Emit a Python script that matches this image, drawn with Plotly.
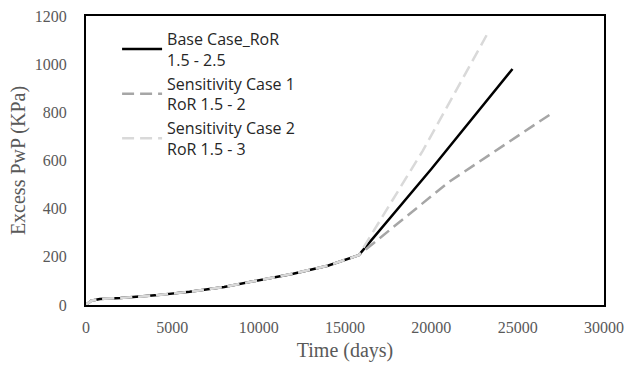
import plotly.graph_objects as go

# Shared early part (days, kPa)
t_common = [0, 300, 800, 2000, 4000, 6000, 8000, 10000, 12000, 14000, 15800]
p_common = [0, 18, 25, 29, 40, 55, 75, 102, 130, 163, 207]

base_t = t_common + [20000, 24700]
base_p = p_common + [565, 980]

sens1_t = t_common + [21000, 27000]
sens1_p = p_common + [510, 797]

sens2_t = t_common + [19500, 23200]
sens2_p = p_common + [640, 1120]

names = ["Base Case_RoR<br>1.5 - 2.5", "Sensitivity Case 1<br>RoR 1.5 - 2", "Sensitivity Case 2<br>RoR 1.5 - 3"]

x_ticks = [0, 5000, 10000, 15000, 20000, 25000, 30000]
y_ticks = [0, 200, 400, 600, 800, 1000, 1200]

fig = go.Figure()
fig.add_trace(go.Scatter(x=base_t, y=base_p, mode="lines", name=names[0], legendgroup="a",
                         line=dict(color="black", width=2.5)))
fig.add_trace(go.Scatter(x=sens1_t, y=sens1_p, mode="lines", name=names[1], legendgroup="b",
                         line=dict(color="#a6a6a6", width=2.5, dash="12px,6px")))
fig.add_trace(go.Scatter(x=sens2_t, y=sens2_p, mode="lines", name=names[2], legendgroup="c",
                         line=dict(color="#d9d9d9", width=2.5, dash="12px,6px")))

tickfont = dict(family="Liberation Serif", size=16, color="#595959")
titlefont = dict(family="Liberation Serif", size=20, color="#595959")

fig.update_layout(
    width=627, height=369,
    margin=dict(l=86, r=23, t=16, b=64),
    paper_bgcolor="white", plot_bgcolor="white",
    showlegend=True,
    legend=dict(x=0.06, y=0.98, xanchor="left", yanchor="top",
                bgcolor="rgba(0,0,0,0)", font=dict(family="Open Sans", size=16, color="#262626"),
                tracegroupgap=0, itemwidth=40),
    xaxis=dict(range=[0, 30000], tickvals=x_ticks, ticktext=[str(v) for v in x_ticks],
               showgrid=False, zeroline=False, automargin=False,
               showline=True, linecolor="black", linewidth=2, mirror=True,
               ticks="", ticklabelstandoff=7, tickfont=tickfont,
               title=dict(text="Time (days)", font=titlefont, standoff=8)),
    yaxis=dict(range=[0, 1200], tickvals=y_ticks, ticktext=[str(v) for v in y_ticks],
               showgrid=False, zeroline=False, automargin=False,
               showline=True, linecolor="black", linewidth=2, mirror=True,
               ticks="", ticklabelstandoff=14, tickfont=tickfont,
               title=dict(text="Excess PwP (KPa)", font=titlefont, standoff=4)),
)

fig.write_html("out.html")
